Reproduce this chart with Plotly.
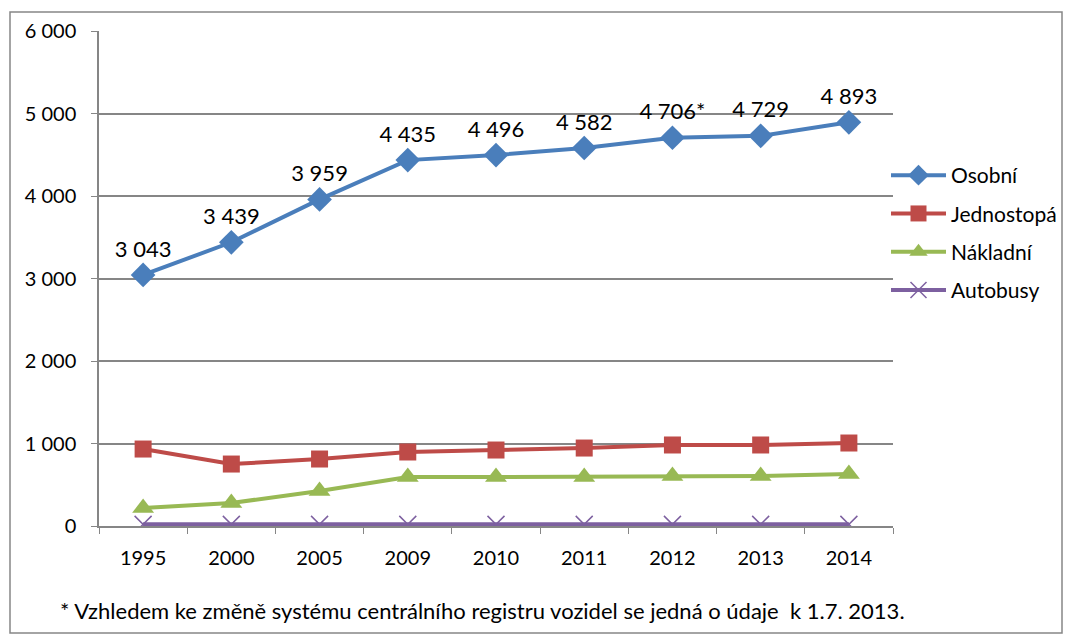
import plotly.graph_objects as go

years = ["1995", "2000", "2005", "2009", "2010", "2011", "2012", "2013", "2014"]
osobni = [3043, 3439, 3959, 4435, 4496, 4582, 4706, 4729, 4893]
osobni_labels = ["3 043", "3 439", "3 959", "4 435", "4 496", "4 582", "4 706*", "4 729", "4 893"]
jednostopa = [933, 751, 812, 897, 921, 945, 982, 982, 1006]
nakladni = [218, 279, 424, 594, 594, 594, 606, 606, 630]
autobusy = [20, 20, 20, 20, 20, 20, 20, 20, 20]

FONT = "Lato"
fig = go.Figure()
fig.add_trace(go.Scatter(x=years, y=osobni, name="Osobní", mode="lines+markers+text",
                         legendgroup="a",
                         text=osobni_labels, textposition="top center",
                         textfont=dict(size=22, color="#000000", family=FONT),
                         line=dict(color="#4A7EBB", width=4),
                         marker=dict(symbol="diamond", size=19, color="#4A7EBB")))
fig.add_trace(go.Scatter(x=years, y=jednostopa, name="Jednostopá", mode="lines+markers",
                         legendgroup="b",
                         line=dict(color="#BE4B48", width=4),
                         marker=dict(symbol="square", size=17, color="#BE4B48")))
fig.add_trace(go.Scatter(x=years, y=nakladni, name="Nákladní", mode="lines+markers",
                         legendgroup="c",
                         line=dict(color="#98B954", width=4),
                         marker=dict(symbol="triangle-up", size=19, color="#98B954")))
fig.add_trace(go.Scatter(x=years, y=autobusy, name="Autobusy", mode="lines+markers",
                         legendgroup="d",
                         line=dict(color="#7D60A0", width=4),
                         marker=dict(symbol="x-thin-open", size=17, color="#7D60A0",
                                     line=dict(width=1.5, color="#7D60A0"))))

fig.update_layout(
    width=1066, height=637,
    margin=dict(l=99, r=173, t=31, b=111, autoexpand=False),
    paper_bgcolor="white", plot_bgcolor="white",
    separators=", ",
    font=dict(family=FONT, size=20, color="#000000"),
    showlegend=True,
    legend=dict(xref="container", yref="container", x=886/1066, y=1 - 155/637,
                xanchor="left", yanchor="top",
                font=dict(size=21, family=FONT), tracegroupgap=8,
                itemwidth=55, bgcolor="rgba(0,0,0,0)"),
    xaxis=dict(type="category", showgrid=False, showline=True, linecolor="#868686", linewidth=1.5,
               ticks="outside", ticklen=6, tickcolor="#868686", tickson="boundaries",
               tickfont=dict(size=20, family=FONT), range=[-0.5, 8.5], ticklabelstandoff=13),
    yaxis=dict(range=[0, 6000], dtick=1000, tickformat=",d", showgrid=True,
               gridcolor="#868686", gridwidth=1.5, showline=True, linecolor="#868686",
               linewidth=1.5, ticks="outside", ticklen=6, tickcolor="#868686",
               tickfont=dict(size=20, family=FONT), zeroline=False, ticklabelstandoff=11),
    shapes=[dict(type="rect", xref="paper", yref="paper",
                 x0=-89/794, x1=(1062-99)/794, y0=-(633-526)/495, y1=(526-12)/495,
                 line=dict(color="#868686", width=1.5), fillcolor="rgba(0,0,0,0)", layer="below")],
    annotations=[dict(text="* Vzhledem ke změně systému centrálního registru vozidel se jedná o údaje  k 1.7. 2013.",
                      xref="paper", yref="paper", x=-(99-58)/794, y=-(610-526)/495,
                      xanchor="left", yanchor="middle", showarrow=False,
                      font=dict(size=22, family=FONT, color="#000000"))],
)

fig.write_html("out.html")
